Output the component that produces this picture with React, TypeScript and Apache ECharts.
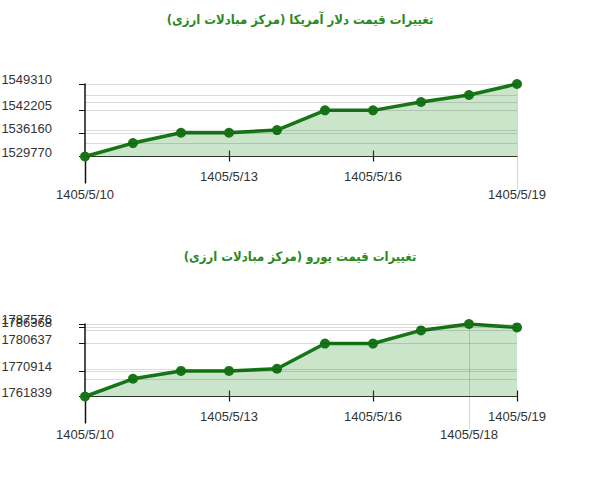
import { useEffect, useRef } from 'react';
import * as echarts from 'echarts';

// dates on the x axis (Persian calendar)
const dates = [
  '1405/5/10', '1405/5/11', '1405/5/12', '1405/5/13', '1405/5/14',
  '1405/5/15', '1405/5/16', '1405/5/17', '1405/5/18', '1405/5/19',
];

// USD price (currency exchange centre)
const usdValues = [1529770, 1533390, 1536160, 1536160, 1536900, 1542205, 1542205, 1544450, 1546340, 1549310];
// EUR price
const eurValues = [1761839, 1768130, 1770914, 1770914, 1771690, 1780637, 1780637, 1785300, 1787576, 1786368];

// labelled y ticks (top value first, so the two crowded top labels both stay)
const usdTicks = [1549310, 1529770, 1536160, 1542205];
const eurTicks = [1787576, 1761839, 1770914, 1780637, 1786368];

// which date labels sit on the first row / second row
const usdUpperLabels = [3, 6];
const usdLowerLabels = [0, 9];
const eurUpperLabels = [3, 6, 9];
const eurLowerLabels = [0, 8];

const usdTitle = 'تغییرات قیمت دلار آمریکا (مرکز مبادلات ارزی)\u200F';
const eurTitle = 'تغییرات قیمت یورو (مرکز مبادلات ارزی)\u200F';

const LABEL_FONT = "'Liberation Sans', Arial, sans-serif";
const TITLE_FONT = "'DejaVu Sans Condensed', 'DejaVu Sans', sans-serif";
const LINE_GREEN = '#177517';

function xAxisFor(gridIndex: number, upper: number[], lower: number[]) {
  return {
    type: 'category',
    gridIndex,
    data: dates,
    boundaryGap: false,
    axisLine: { lineStyle: { color: '#333', width: 1 } },
    axisTick: { show: false },
    splitLine: { show: false },
    axisLabel: {
      interval: 0,
      formatter: (v: string, i: number) =>
        lower.includes(i) ? '\n' + v : upper.includes(i) ? v : '',
      margin: 11,
      lineHeight: 18,
      fontSize: 13,
      fontFamily: LABEL_FONT,
      color: '#333',
    },
  };
}

function yAxisFor(gridIndex: number, values: number[], ticks: number[]) {
  return {
    type: 'value',
    gridIndex,
    min: Math.min(...values),
    max: Math.max(...values),
    axisLine: { show: true, lineStyle: { color: '#111', width: 1.5 } },
    axisTick: { show: true, length: 6, customValues: ticks, lineStyle: { color: '#111' } },
    splitLine: { show: false },
    axisLabel: {
      customValues: ticks,
      formatter: (v: number) => String(v),
      showMinLabel: true,
      showMaxLabel: true,
      hideOverlap: false,
      margin: 33,
      verticalAlign: 'bottom',
      lineHeight: 9,
      fontSize: 13,
      fontFamily: LABEL_FONT,
      color: '#333',
    },
  };
}

function seriesFor(index: number, values: number[]) {
  const levels = Array.from(new Set(values));
  return {
    type: 'line',
    xAxisIndex: index,
    yAxisIndex: index,
    data: values,
    symbol: 'circle',
    symbolSize: 10,
    lineStyle: { color: LINE_GREEN, width: 3.5 },
    itemStyle: { color: LINE_GREEN },
    areaStyle: { color: 'rgba(60,160,60,0.27)', opacity: 1 },
    markLine: {
      silent: true,
      symbol: ['none', 'none'],
      label: { show: false },
      lineStyle: { color: 'rgba(0,0,0,0.14)', width: 1, type: 'solid' },
      data: levels.map((v) => ({ yAxis: v })),
    },
  };
}

export default function App() {
  const chartRef = useRef<HTMLDivElement>(null);

  useEffect(() => {
    if (!chartRef.current) return;
    const chart = echarts.init(chartRef.current, null, { renderer: 'svg' });

    const titleStyle = { color: '#2a8a1e', fontSize: 13, fontWeight: 'bold', fontFamily: TITLE_FONT };

    chart.setOption({
      animation: false,
      backgroundColor: '#fff',
      title: [
        { text: usdTitle, left: 'center', top: 8, textStyle: titleStyle },
        { text: eurTitle, left: 'center', top: 245, textStyle: titleStyle },
      ],
      grid: [
        { left: 85, right: 83, top: 84, height: 72.5, outerBoundsMode: 'none' },
        { left: 85, right: 83, top: 324, height: 72.5, outerBoundsMode: 'none' },
      ],
      xAxis: [
        xAxisFor(0, usdUpperLabels, usdLowerLabels),
        xAxisFor(1, eurUpperLabels, eurLowerLabels),
      ],
      yAxis: [
        yAxisFor(0, usdValues, usdTicks),
        yAxisFor(1, eurValues, eurTicks),
      ],
      series: [seriesFor(0, usdValues), seriesFor(1, eurValues)],
    });

    // date ticks and leader lines, placed through the chart's own scales
    const decor = (gridIndex: number, values: number[], upper: number[], lower: number[]) => {
      const min = Math.min(...values);
      const max = Math.max(...values);
      const bottom = chart.convertToPixel({ gridIndex }, [0, min])[1];
      const top = chart.convertToPixel({ gridIndex }, [0, max])[1];
      const out: any[] = [];
      upper.forEach((i) => {
        const x = Math.round(chart.convertToPixel({ gridIndex }, [i, min])[0]) + 0.5;
        out.push({
          type: 'line',
          silent: true,
          shape: { x1: x, y1: bottom - 6, x2: x, y2: bottom + 5 },
          style: { stroke: '#111', lineWidth: 1.2 },
        });
      });
      lower.forEach((i) => {
        const x = Math.round(chart.convertToPixel({ gridIndex }, [i, min])[0]) + 0.5;
        out.push(
          i === 0
            ? {
                type: 'line',
                silent: true,
                shape: { x1: x, y1: bottom, x2: x, y2: bottom + 27 },
                style: { stroke: '#111', lineWidth: 1.5 },
              }
            : {
                type: 'line',
                silent: true,
                shape: { x1: x, y1: top, x2: x, y2: bottom + 33 },
                style: { stroke: '#d4d4d4', lineWidth: 1 },
              }
        );
      });
      return out;
    };

    chart.setOption({
      graphic: [
        ...decor(0, usdValues, usdUpperLabels, usdLowerLabels),
        ...decor(1, eurValues, eurUpperLabels, eurLowerLabels),
      ],
    });

    return () => chart.dispose();
  }, []);

  return (
    <div
      ref={chartRef}
      style={{ position: 'fixed', left: 0, top: 0, width: '600px', height: '480px' }}
      aria-label="USD and EUR price change charts"
    />
  );
}
